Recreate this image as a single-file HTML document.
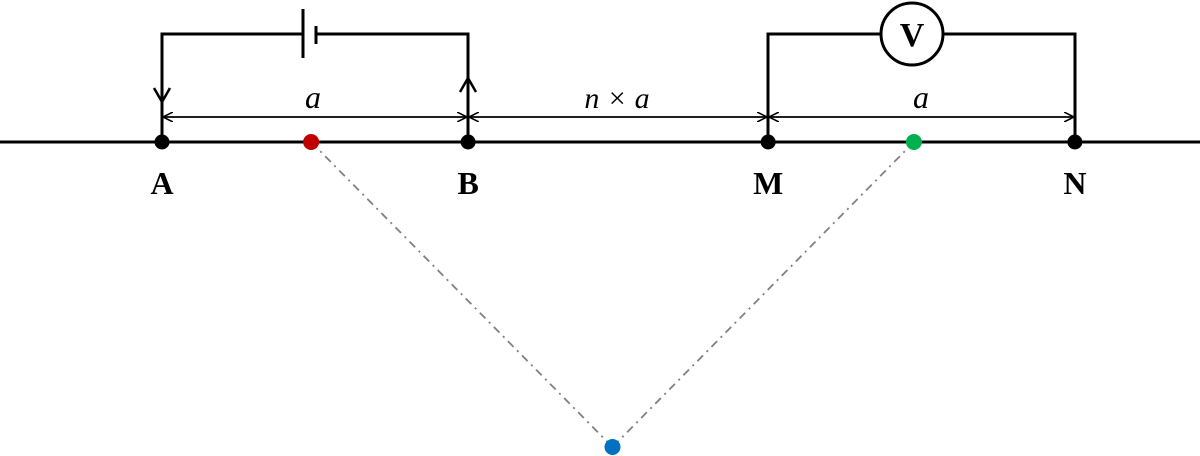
<!DOCTYPE html>
<html><head><meta charset="utf-8"><style>
html,body{margin:0;padding:0;background:#fff;width:1200px;height:456px;overflow:hidden}
text{font-family:"Liberation Serif",serif}
</style></head><body>
<svg width="1200" height="456" viewBox="0 0 1200 456">
<defs>
<marker id="ah" viewBox="0 0 10 10" refX="10" refY="5" markerWidth="10" markerHeight="10" markerUnits="userSpaceOnUse" orient="auto-start-reverse">
<path d="M0,0 L10,5 L0,10" fill="none" stroke="#000" stroke-width="1.6"/></marker>
</defs>
<line x1="0" y1="142" x2="1200" y2="142" stroke="#000" stroke-width="3"/>
<g stroke="#000" stroke-width="3" fill="none">
<polyline points="162,142 162,34 303,34"/>
<polyline points="316,34 468,34 468,142"/>
<line x1="303" y1="9" x2="303" y2="58"/>
<line x1="316" y1="26" x2="316" y2="44"/>
<polyline points="154,88 162,102 170,88" stroke-width="2.5"/>
<polyline points="460,92 468,78 476,92" stroke-width="2.5"/>
</g>
<g stroke="#000" stroke-width="3" fill="none">
<polyline points="768,142 768,34 881,34"/>
<polyline points="943,34 1075,34 1075,142"/>
<circle cx="912" cy="34" r="31" fill="#fff"/>
</g>
<text x="912" y="46" text-anchor="middle" font-size="34" font-weight="bold">V</text>
<g stroke="#000" stroke-width="1.8">
<line x1="163" y1="117" x2="467" y2="117" marker-start="url(#ah)" marker-end="url(#ah)"/>
<line x1="469" y1="117" x2="767" y2="117" marker-start="url(#ah)" marker-end="url(#ah)"/>
<line x1="769" y1="117" x2="1074" y2="117" marker-start="url(#ah)" marker-end="url(#ah)"/>
</g>
<text x="313" y="108" text-anchor="middle" font-size="32" font-style="italic">a</text>
<text x="617" y="108" text-anchor="middle" font-size="30" font-style="italic">n × a</text>
<text x="921" y="108" text-anchor="middle" font-size="32" font-style="italic">a</text>
<g id="pts"></g>
</svg>
<script>
const names=['A','B','M','N'];
const xs=[0,1.006,1.992,3.0];
const mids=[0.49,2.471];
const depth=[1];
const sx=v=>162+v*304.3;
const sy=v=>142+v*305;
const g=document.getElementById('pts');
const NS='http://www.w3.org/2000/svg';
function mk(t,a){const e=document.createElementNS(NS,t);for(const k in a)e.setAttribute(k,a[k]);g.appendChild(e);return e;}
const px=sx((mids[0]+mids[1])/2), py=sy(depth[0]);
mids.forEach((m,i)=>{
 const l=mk('line',{x1:sx(m),y1:142,x2:px,y2:py,stroke:'#808080','stroke-width':1.8,'stroke-dasharray':'8 5 2 5'});
 
 
});
names.forEach((n,i)=>{
 const c=mk('circle',{cx:sx(xs[i]),cy:142,r:7.5,fill:'#000'});
 
 
 const t=mk('text',{x:sx(xs[i]),y:194,'text-anchor':'middle','font-size':32,'font-weight':'bold'});
 t.textContent=n;
 
 
});
const cols=['#c00000','#00b050'];
mids.forEach((m,i)=>{
 const c=mk('circle',{cx:sx(m),cy:142,r:8,fill:cols[i]});
 
 
});
const d=mk('circle',{cx:px,cy:py,r:8,fill:'#0070c0'});


</script>
</body></html>
